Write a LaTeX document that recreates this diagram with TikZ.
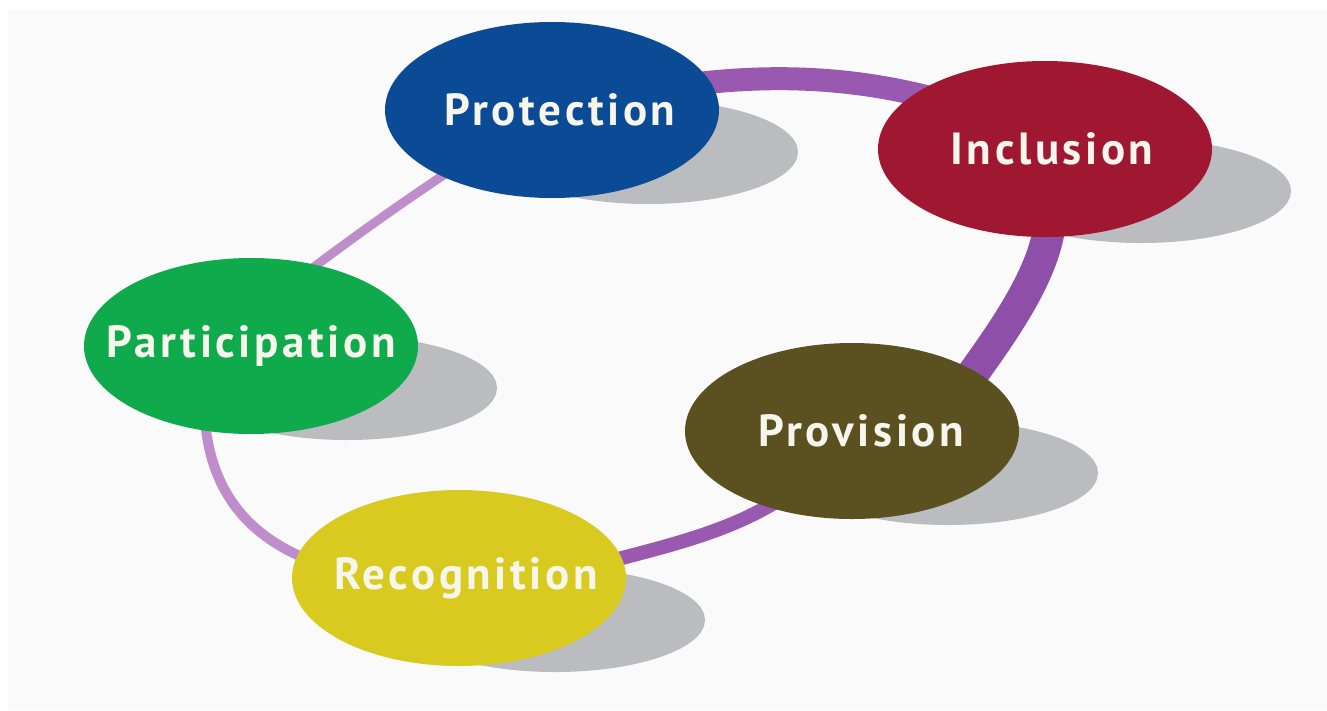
\documentclass[tikz,border=0pt]{standalone}
\usepackage{fontspec}
\setmainfont{PT Sans}
\usetikzlibrary{shapes.geometric}
\definecolor{protblue}{HTML}{0B4A94}
\definecolor{inclred}{HTML}{9F1731}
\definecolor{partgreen}{HTML}{0EAA4B}
\definecolor{provolive}{HTML}{5A5020}
\definecolor{recyellow}{HTML}{D8CA1F}
\definecolor{shadowgrey}{HTML}{BBBCC0}
\definecolor{labelwhite}{HTML}{F7F6EC}
\definecolor{ringdark}{HTML}{8E4FA9}
\definecolor{ringmid}{HTML}{9A59B0}
\definecolor{ringlight}{HTML}{C08DCC}
\definecolor{paper}{HTML}{FAFAFA}
\pgfdeclarelayer{shadowlayer}
\pgfdeclarelayer{ringlayer}
\pgfsetlayers{shadowlayer,ringlayer,main}
\newcommand{\bubbletext}[2]{\makebox[0pt]{\hspace*{#1}#2}}
\begin{document}
\begin{tikzpicture}[x=1pt,y=-1pt,
  bubble/.style={ellipse, minimum width=334pt, minimum height=176pt, inner sep=0pt,
    text=labelwhite, font=\bfseries\fontsize{45}{45}\selectfont\addfontfeature{LetterSpace=8}},
  shadowblob/.style={fill=shadowgrey},
  ring/.style={shorten <=-12pt, shorten >=-12pt}
]
\useasboundingbox (0,0) rectangle (1327,710);

% positions
\coordinate (cprot) at (552,110);
\coordinate (cincl) at (1045,149);
\coordinate (cpart) at (251,346);
\coordinate (cprov) at (852,431);
\coordinate (crec)  at (459,578);

% nodes
\node[bubble, fill=protblue]  (prot) at (cprot) {\bubbletext{16pt}{Protection}};
\node[bubble, fill=inclred]   (incl) at (cincl) {\bubbletext{14pt}{Inclusion}};
\node[bubble, fill=partgreen] (part) at (cpart) {\bubbletext{0pt}{Participation}};
\node[bubble, fill=provolive] (prov) at (cprov) {\bubbletext{18pt}{Provision}};
\node[bubble, fill=recyellow] (rec)  at (crec)  {\bubbletext{14pt}{Recognition}};

% shadows and paper
\begin{pgfonlayer}{shadowlayer}
\fill[white] (0,0) rectangle (1327,710);
\fill[paper] (8,10) rectangle (1327,710);
\foreach \c in {cprot,cincl,cpart,cprov,crec}
  \fill[shadowblob] ([shift={(96,42)}]\c) ellipse [x radius=150pt, y radius=52pt];
\end{pgfonlayer}

% connectors (behind the bubbles)
\begin{pgfonlayer}{ringlayer}
\draw[ring, draw=ringmid, line width=23pt]
  (prot.10) .. controls +(70,-8) and +(-60,-15) .. (incl.157);
\draw[ring, draw=ringdark, line width=32pt]
  (incl.272) .. controls +(-5,40) and +(25,-35) .. (prov.26);
\draw[ring, draw=ringmid, line width=14pt]
  (prov.222) .. controls +(-40,25) and +(45,-12) .. (rec.7);
\draw[ring, draw=ringlight, line width=10pt]
  (part.242) .. controls +(5,65) and +(-45,-18) .. (rec.172);
\draw[ring, draw=ringlight, line width=9pt]
  (part.51) .. controls +(40,-30) and +(-45,30) .. (prot.211);
\end{pgfonlayer}
\end{tikzpicture}
\end{document}
